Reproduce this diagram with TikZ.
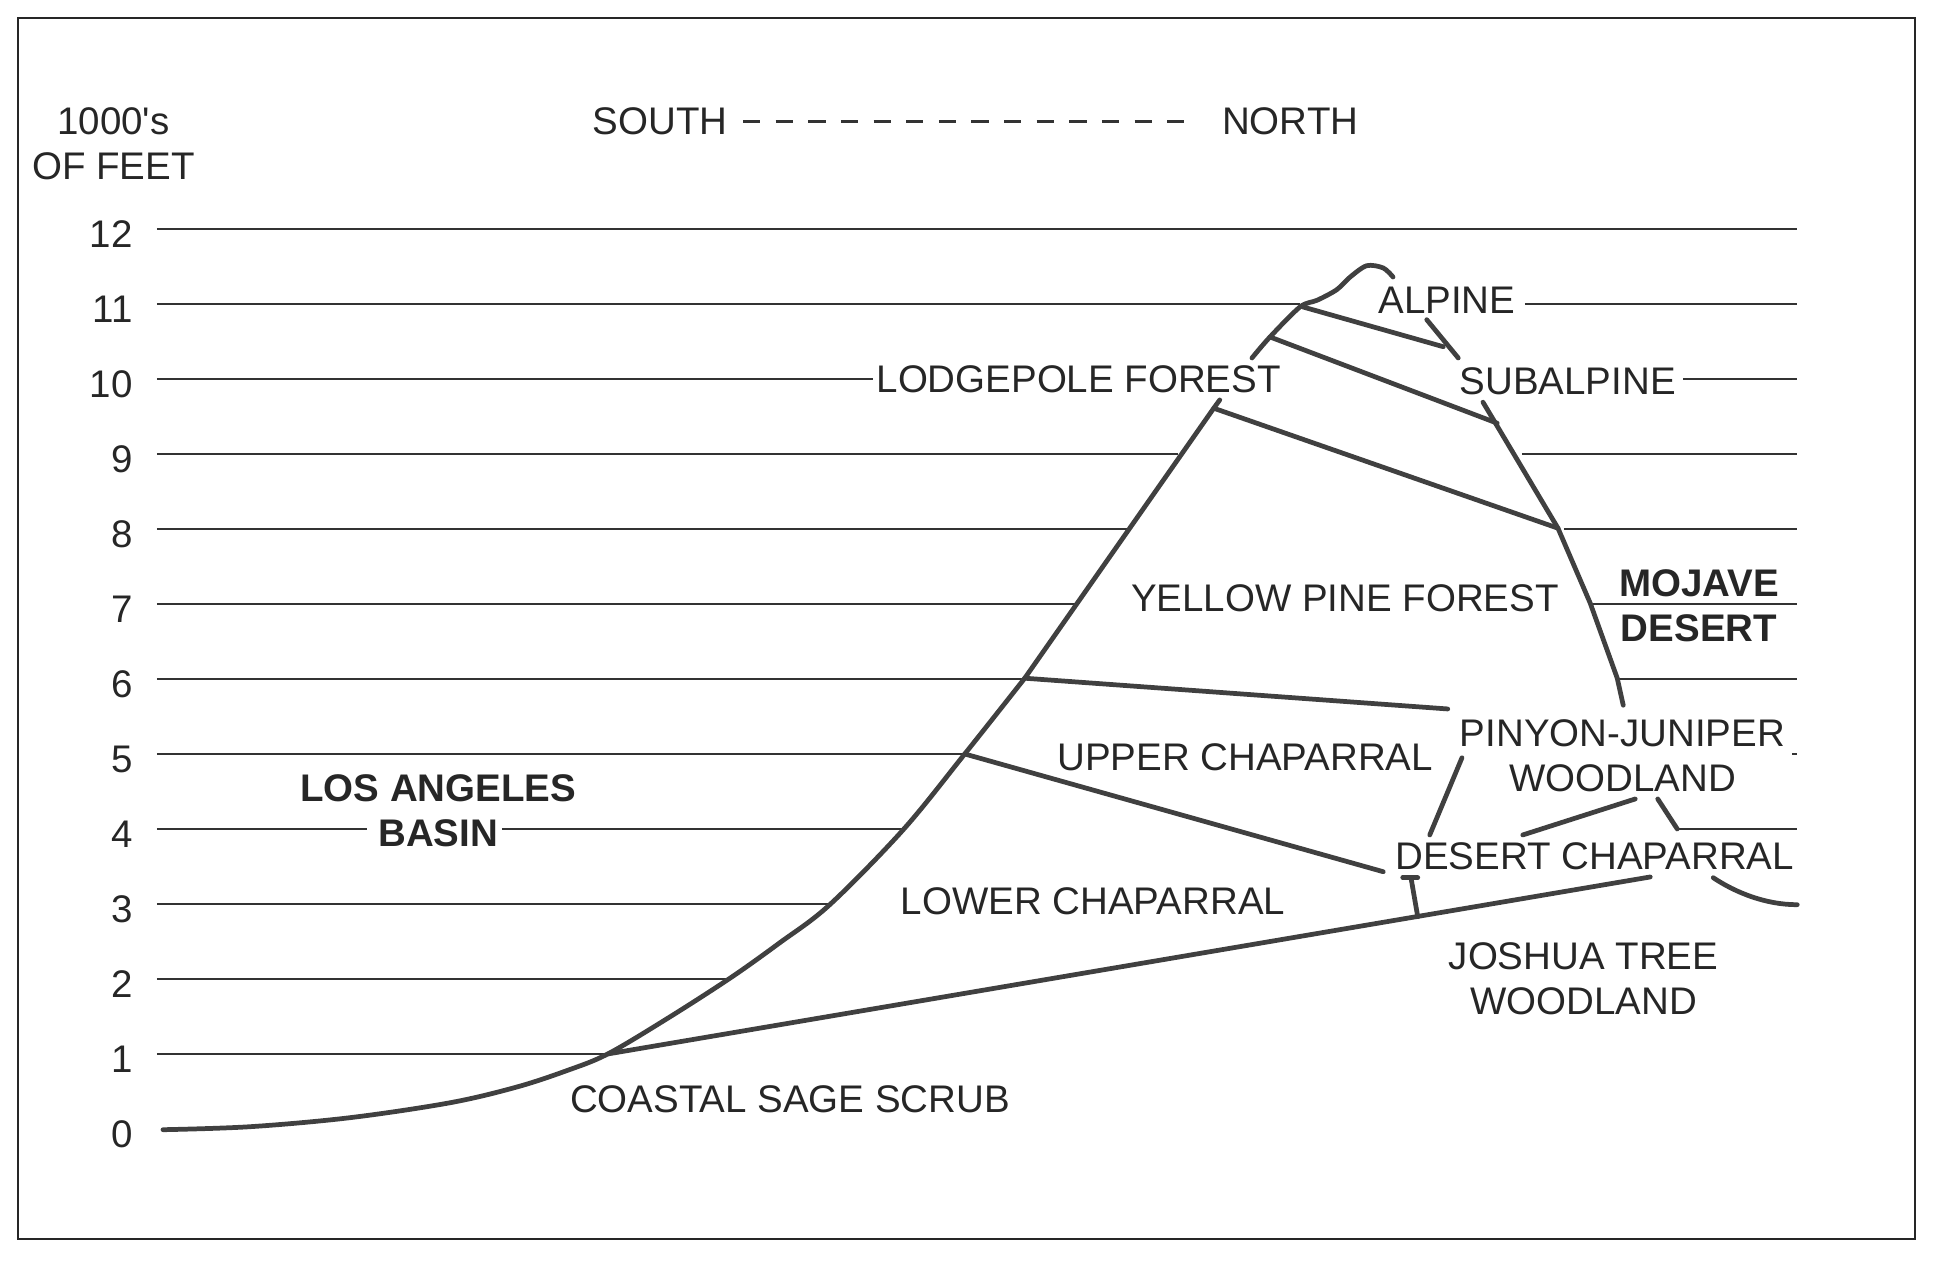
\documentclass[tikz,border=0pt]{standalone}
\usepackage{fontspec}
\setmainfont{Liberation Sans}[Ligatures=TeXOff]
\begin{document}
\begin{tikzpicture}[
	elevline/.style={line width=0.7pt, draw=black!80},
	zoneline/.style={line width=1.8pt, draw=black!75, line cap=round, line join=round},
	lbl/.style={inner sep=0pt, text=black!85, align=center, font=\fontsize{14.6}{17}\selectfont},
	boldlbl/.style={lbl, font=\fontsize{14.6}{17}\selectfont\bfseries}]
	\useasboundingbox (-2.093,-1.787) rectangle (23.747,15.053);
	\draw[line width=1.1pt, black!85] (-1.853,-1.467) rectangle (23.44,14.813);
	
	% elevation lines, left part (up to the slope)
	\foreach \e/\a in {12/21.87, 11/15.24, 10/9.55, 9/13.62, 8/12.93, 7/12.24, 6/11.57, 5/10.77, 3/8.97, 2/7.64, 1/5.98}
		\draw[elevline] (0,\e) -- (\a,\e);
	\draw[elevline] (0,4) -- (2.8,4);
	\draw[elevline] (4.6,4) -- (9.95,4);
	% elevation lines, right part
	\foreach \e/\b in {11/18.24, 10/20.35, 9/18.2, 8/18.76, 7/19.11, 6/19.48, 5/21.8, 4/20.27}
		\draw[elevline] (\b,\e) -- (21.87,\e);
	
	\foreach \e in {0,...,12}
		\node[lbl, anchor=east] (tick\e) at (-0.32,\e-0.07) {\e};
	\node[lbl] (feet) at (-0.58,13.14) {1000's\\OF FEET};
	
	\node[lbl] (south) at (6.71,13.43) {SOUTH};
	\node[lbl] (north) at (15.11,13.43) {NORTH};
	\draw[line width=1pt, black!80, dash pattern=on 0.23cm off 0.205cm] ([xshift=0.2cm]south.east) -- ([xshift=-0.32cm]north.west);
	
	% junctions on the slopes
	\coordinate (jct) at (6.01,1.0);
	\coordinate (upjct) at (10.77,5.0);
	\coordinate (ypjct) at (11.57,6.01);
	\coordinate (lpjct) at (14.09,9.61);
	\coordinate (sajct) at (14.84,10.56);
	\coordinate (aljct) at (15.28,10.96);
	\coordinate (rjct) at (18.68,8.01);
	
	% south slope
	\draw[zoneline] plot[smooth, tension=0.55] coordinates {(0.08,-0.01) (1.24,0.03) (2.57,0.15) (3.91,0.35) (4.8,0.56) (5.47,0.78) (jct) (6.8,1.47) (7.64,2.01) (8.3,2.48) (8.97,2.99) (9.95,3.99) (upjct) (ypjct)};
	\draw[zoneline] (ypjct) -- (lpjct) -- (14.17,9.72);
	\draw[zoneline] plot[smooth, tension=0.5] coordinates {(14.6,10.28) (sajct) (15.24,10.96) (15.47,11.05) (15.73,11.19) (15.91,11.36) (16.13,11.51) (16.35,11.48) (16.48,11.36)};
	% north slope
	\draw[zoneline] (16.93,10.79) -- (17.35,10.28);
	\draw[zoneline] (17.68,9.69) -- (rjct) -- (19.11,7.01) -- (19.47,6.01) -- (19.55,5.65);
	
	% zone boundaries
	\draw[zoneline] (aljct) -- (17.15,10.43);
	\draw[zoneline] (sajct) -- (17.87,9.41);
	\draw[zoneline] (lpjct) -- (rjct);
	\draw[zoneline] (ypjct) -- (17.21,5.6);
	\draw[zoneline] (upjct) -- (16.35,3.43);
	\draw[zoneline] (17.4,4.95) -- (16.97,3.92);
	\draw[zoneline] (18.21,3.92) -- (19.71,4.4);
	\draw[zoneline] (20.01,4.4) -- (20.27,4.0);
	\draw[zoneline] (jct) -- (19.91,3.36);
	\draw[zoneline] (16.61,3.35) -- (16.81,3.35);
	\draw[zoneline] (16.72,3.35) -- (16.81,2.83);
	\draw[zoneline] (20.75,3.35) .. controls (21.05,3.15) and (21.45,2.99) .. (21.87,2.99);
	
	% zone names
	\node[boldlbl] (basin) at (3.75,4.24) {LOS ANGELES\\BASIN};
	\node[lbl] (sage) at (8.44,0.39) {COASTAL SAGE SCRUB};
	\node[lbl] (lowchap) at (12.48,3.04) {LOWER CHAPARRAL};
	\node[lbl] (upchap) at (14.51,4.95) {UPPER CHAPARRAL};
	\node[lbl] (ypine) at (15.84,7.08) {YELLOW PINE FOREST};
	\node[lbl] (lodge) at (12.29,9.99) {LODGEPOLE FOREST};
	\node[lbl] (subalp) at (18.81,9.97) {SUBALPINE};
	\node[lbl] (alp) at (17.2,11.05) {ALPINE};
	\node[boldlbl] (mojave) at (20.56,6.98) {MOJAVE\\DESERT};
	\node[lbl] (pinyon) at (19.54,4.98) {PINYON-JUNIPER\\WOODLAND};
	\node[lbl] (deschap) at (19.17,3.63) {DESERT CHAPARRAL};
	\node[lbl] (joshua) at (19.02,2.0) {JOSHUA TREE\\WOODLAND};
\end{tikzpicture}
\end{document}
